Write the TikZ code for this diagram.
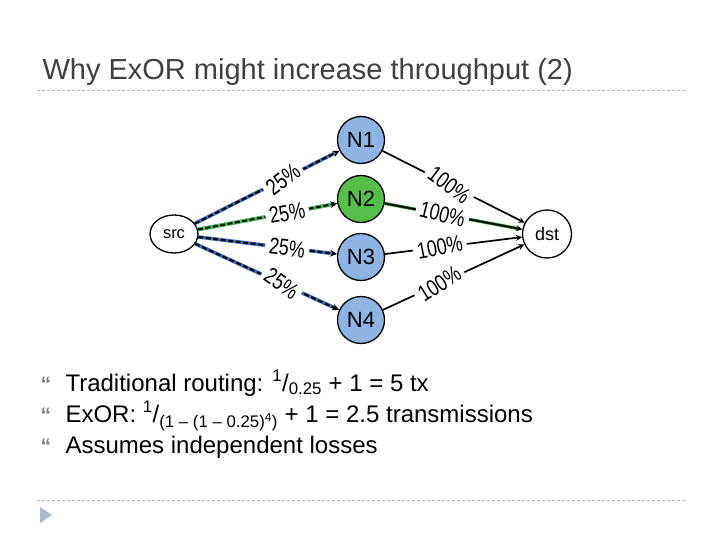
\documentclass[tikz,border=0pt]{standalone}
\usepackage{fontspec}
\setmainfont{Liberation Sans}
\usepackage{graphicx}
\usepackage{tikz}
\usetikzlibrary{shapes.geometric, arrows, positioning, calc}

\definecolor{nodeblue}{HTML}{8EB4E3}
\definecolor{nodegreen}{HTML}{55BF4A}
\definecolor{linkblue}{HTML}{3A72C4}
\definecolor{linkgreen}{HTML}{3CC83C}
\definecolor{titlegray}{HTML}{404040}
\definecolor{rulegray}{HTML}{B4B4B4}
\definecolor{markgray}{HTML}{A8B8CE}

\newcommand{\lossrate}[1]{\scalebox{0.78}[1]{#1\%}}

\begin{document}
\begin{tikzpicture}[
    x=1pt, y=-1pt, >=stealth,
    every node/.style={font=\fontsize{23}{24}\selectfont},
    endpt/.style={ellipse, draw=black, line width=1.3pt, fill=white, minimum width=48pt, minimum height=38pt, inner sep=0pt, font=\fontsize{16.5}{18}\selectfont},
    relay/.style={circle, draw=black, line width=1.3pt, fill=nodeblue, minimum size=47pt, inner sep=0pt, font=\fontsize{22}{24}\selectfont},
    relaygo/.style={relay, fill=nodegreen},
    srclink/.style={->, draw=black, line width=2pt, dash pattern=on 5pt off 2.5pt, preaction={draw=linkblue, line width=3.6pt, solid, -, shorten >=5pt}},
    srclinkgo/.style={srclink, preaction={draw=linkgreen, line width=3.6pt, solid, -, shorten >=5pt}},
    dstlink/.style={->, draw=black, line width=1.7pt},
    dstlinkgo/.style={dstlink, preaction={draw=linkgreen!70!black, line width=3.2pt, -, shorten >=5pt}},
    lbl/.style={fill=white, inner sep=4pt, sloped},
    rule/.style={draw=rulegray, line width=0.8pt, dash pattern=on 3pt off 2pt},
    bulletpt/.style={anchor=base west, text=gray, font=\fontsize{21}{22}\selectfont\bfseries},
    item/.style={anchor=base west, font=\fontsize{24}{26}\selectfont}
]
\useasboundingbox[fill=white] (0,0) rectangle (720,540);

% --- Title ---
\node[anchor=base west, text=titlegray, font=\fontsize{29}{32}\selectfont] (title) at (39,80) {Why ExOR might increase throughput (2)};
\draw[rule] (37,90) -- (685,90);

% --- Network: src -> N1..N4 -> dst ---
\node[endpt] (src) at (174,234) {src};
\node[relay] (n1) at (361,140) {N1};
\node[relaygo] (n2) at (361,199) {N2};
\node[relay] (n3) at (361,257) {N3};
\node[relay] (n4) at (361,320) {N4};
\node[endpt, minimum width=49pt, minimum height=48pt, font=\fontsize{18}{20}\selectfont] (dst) at (547,234) {dst};

\draw[srclink] (src) -- node[lbl, pos=0.61, rotate=10] {\lossrate{25}} (n1);
\draw[srclinkgo] (src) -- node[lbl, pos=0.64] {\lossrate{25}} (n2);
\draw[srclink] (src) -- node[lbl, pos=0.64] {\lossrate{25}} (n3);
\draw[srclink] (src) -- node[lbl, pos=0.6, rotate=-10] {\lossrate{25}} (n4);

\draw[dstlink] (n1) -- node[lbl, pos=0.47, rotate=-10] {\lossrate{100}} (dst);
\draw[dstlinkgo] (n2) -- node[lbl, pos=0.42, rotate=-3] {\lossrate{100}} (dst);
\draw[dstlink] (n3) -- node[lbl, pos=0.4, rotate=4] {\lossrate{100}} (dst);
\draw[dstlink] (n4) -- node[lbl, pos=0.4, rotate=8] {\lossrate{100}} (dst);

% --- Bullet points ---
\node[item] (line1) at (62,391) {Traditional routing: \textsuperscript{1}/\textsubscript{0.25} + 1 = 5 tx};
\node[item] (line2) at (62,422) {ExOR: \textsuperscript{1}/\textsubscript{(1 – (1 – 0.25)\textsuperscript{4})} + 1 = 2.5 transmissions};
\node[item] (line3) at (62,453) {Assumes independent losses};
\foreach \k/\yy in {1/391, 2/422, 3/453}
    \node[bulletpt] (mark\k) at (37,\yy) {“};

% --- Footer ---
\draw[rule] (37,500) -- (685,500);
\fill[markgray] (40,507) -- (52,515) -- (40,523) -- cycle;
\end{tikzpicture}
\end{document}
